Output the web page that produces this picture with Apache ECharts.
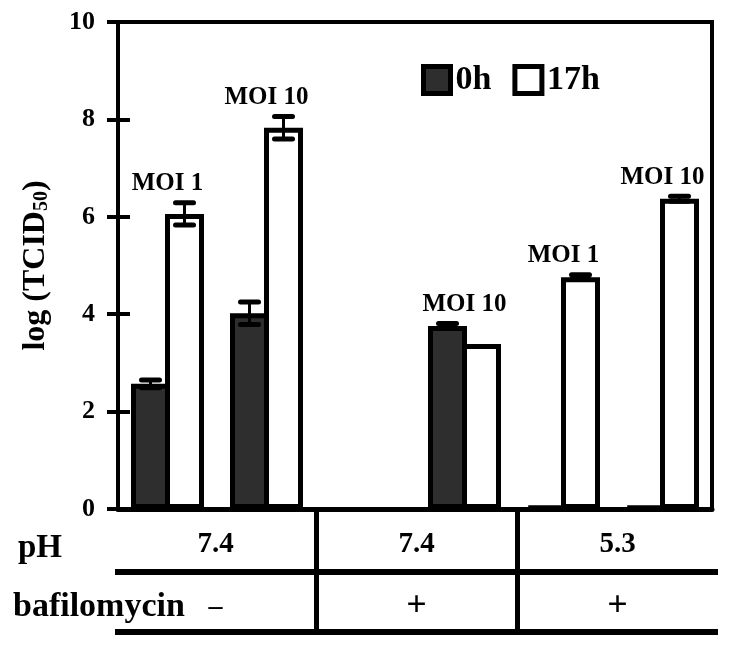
<!DOCTYPE html>
<html><head><meta charset="utf-8">
<script src="https://cdn.jsdelivr.net/npm/echarts@6/dist/echarts.min.js"></script>
<style>html,body{margin:0;padding:0;background:#fff}#c{width:731px;height:655px}</style>
</head><body><div id="c"></div>
<script>
// ---- data ----
const slots = ['pH 7.4 / − / MOI 1', 'pH 7.4 / − / MOI 10', 'pH 7.4 / + / MOI 1', 'pH 7.4 / + / MOI 10', 'pH 5.3 / + / MOI 1', 'pH 5.3 / + / MOI 10'];
const moiLabels = ['MOI 1', 'MOI 10', '', 'MOI 10', 'MOI 1', 'MOI 10'];
const seriesNames = ['0h', '17h'];
const h0 = [2.57, 4.02, null, 3.76, 0.05, 0.05];
const h0Err = [0.08, 0.23, null, 0.05, 0, 0];
const h17 = [6.06, 7.83, null, 3.39, 4.76, 6.37];
const h17Err = [0.23, 0.23, null, 0, 0.05, 0.05];
const yMin = 0, yMax = 10, yInterval = 2;
const yName = 'log (TCID', ySub = '50';
const groups = ['pH 7.4, bafilomycin −', 'pH 7.4, bafilomycin +', 'pH 5.3, bafilomycin +'];
const rowNames = ['pH', 'bafilomycin'];
const phValues = ['7.4', '7.4', '5.3'];
const bafValues = ['–', '+', '+'];

// ---- chart ----
const FF = 'Liberation Serif';
const BW = 39;        // bar width px
const BORDER = 5;     // bar border px
const chart = echarts.init(document.getElementById('c'), null, {renderer: 'canvas'});
const barOffset = (BW - BORDER) / 2;

function errSeries(vals, errs, offset) {
  const data = [];
  vals.forEach((v, i) => { if (v != null && errs[i]) data.push([i, v, errs[i]]); });
  return {
    type: 'custom', xAxisIndex: 0, yAxisIndex: 0, z: 5, silent: true,
    data: data,
    renderItem: function (params, api) {
      const i = api.value(0), v = api.value(1), e = api.value(2);
      const top = api.coord([i, v + e]);
      const bot = api.coord([i, v - e]);
      const x = top[0] + offset;
      const cap = 9;
      const st = {stroke: '#000', lineWidth: 5, lineCap: 'round'};
      return {type: 'group', children: [
        {type: 'line', shape: {x1: x, y1: top[1], x2: x, y2: bot[1]}, style: {stroke: '#000', lineWidth: 3}},
        {type: 'line', shape: {x1: x - cap, y1: top[1], x2: x + cap, y2: top[1]}, style: st},
        {type: 'line', shape: {x1: x - cap, y1: bot[1], x2: x + cap, y2: bot[1]}, style: st}
      ]};
    }
  };
}

const labelPts = [];
slots.forEach((s, i) => {
  if (!moiLabels[i]) return;
  const a = h0[i] == null ? 0 : h0[i] + (h0Err[i] || 0);
  const b = h17[i] == null ? 0 : h17[i] + (h17Err[i] || 0);
  labelPts.push({value: [i, Math.max(a, b)], text: moiLabels[i]});
});

const cells = [], cellTexts = [];
groups.forEach((g, i) => {
  cells.push([i, 0]); cellTexts.push('{v|' + phValues[i] + '}');
  cells.push([i, 1]); cellTexts.push((bafValues[i] === '+' ? '{s|' : '{d|') + bafValues[i] + '}');
});

const option = {
  animation: false,
  backgroundColor: '#fff',
  grid: [
    {left: 118, right: 19, top: 22, bottom: 146, show: true, borderWidth: 4, borderColor: '#000', backgroundColor: 'transparent'},
    {left: 115, right: 13, top: 512, bottom: 23}
  ],
  legend: {
    left: 416, top: 58, icon: 'rect', itemWidth: 27, itemHeight: 27, itemGap: 21,
    data: seriesNames,
    itemStyle: {borderWidth: 5, borderColor: '#000'},
    textStyle: {fontFamily: FF, fontWeight: 'bold', fontSize: 34, color: '#000', padding: [0, 0, 0, 0]}
  },
  xAxis: [
    {type: 'category', gridIndex: 0, data: slots, boundaryGap: true,
     axisLine: {show: true, lineStyle: {color: '#000', width: 5}},
     axisTick: {show: false}, axisLabel: {show: false}, splitLine: {show: false}},
    {type: 'category', gridIndex: 1, data: groups, boundaryGap: true,
     axisLine: {show: false}, axisTick: {show: false}, axisLabel: {show: false},
     splitLine: {show: true, showMinLine: false, showMaxLine: false, lineStyle: {color: '#000', width: 5}}}
  ],
  yAxis: [
    {type: 'value', gridIndex: 0, min: yMin, max: yMax, interval: yInterval, position: 'left',
     name: '{a|' + yName + '}{s|' + ySub + '}{a|)}', nameLocation: 'middle', nameRotate: 90, nameGap: 66,
     nameTextStyle: {rich: {
       a: {fontFamily: FF, fontWeight: 'bold', fontSize: 32, color: '#000'},
       s: {fontFamily: FF, fontWeight: 'bold', fontSize: 20, color: '#000', verticalAlign: 'bottom'}
     }},
     axisLine: {show: true, lineStyle: {color: '#000', width: 4}},
     axisTick: {show: true, inside: false, length: 11, lineStyle: {color: '#000', width: 4}},
     axisLabel: {margin: 23, fontFamily: FF, fontWeight: 'bold', fontSize: 26, color: '#000'},
     splitLine: {show: false}},
    {type: 'value', gridIndex: 0, min: yMin, max: yMax, interval: yInterval, position: 'left',
     axisLine: {show: false},
     axisTick: {show: true, inside: true, length: 12, lineStyle: {color: '#000', width: 4}},
     axisLabel: {show: false}, splitLine: {show: false}},
    {type: 'category', gridIndex: 1, data: rowNames, inverse: true, position: 'left',
     axisLine: {show: false}, axisTick: {show: false},
     axisLabel: {margin: 102, align: 'left',
       formatter: v => v === 'pH' ? '{p|' + v + '}' : '{b|' + v + '}',
       rich: {
         p: {fontFamily: FF, fontWeight: 'bold', fontSize: 33, color: '#000', padding: [13, 0, 0, 5]},
         b: {fontFamily: FF, fontWeight: 'bold', fontSize: 34, color: '#000', padding: [10, 0, 0, 0]}
       }},
     splitLine: {show: true, showMinLine: false, lineStyle: {color: '#000', width: 6}}}
  ],
  series: [
    {name: seriesNames[0], type: 'bar', xAxisIndex: 0, yAxisIndex: 0, data: h0, barWidth: BW, barGap: (-BORDER / BW * 100).toFixed(1) + '%',
     itemStyle: {color: '#2e2e2e', borderColor: '#000', borderWidth: BORDER}},
    {name: seriesNames[1], type: 'bar', xAxisIndex: 0, yAxisIndex: 0, data: h17, barWidth: BW,
     itemStyle: {color: '#fff', borderColor: '#000', borderWidth: BORDER}},
    errSeries(h0, h0Err, -barOffset),
    errSeries(h17, h17Err, barOffset),
    {type: 'scatter', xAxisIndex: 0, yAxisIndex: 0, symbolSize: 1, silent: true, z: 6,
     itemStyle: {color: 'rgba(0,0,0,0)', opacity: 1},
     data: labelPts.map(p => p.value),
     label: {show: true, position: 'top', distance: 6, formatter: p => labelPts[p.dataIndex].text,
       fontFamily: FF, fontWeight: 'bold', fontSize: 25, color: '#000', opacity: 1}},
    {type: 'scatter', xAxisIndex: 1, yAxisIndex: 2, symbolSize: 1, silent: true,
     itemStyle: {color: 'rgba(0,0,0,0)', opacity: 1},
     data: cells,
     label: {show: true, position: 'inside', formatter: p => cellTexts[p.dataIndex], opacity: 1,
       rich: {
         v: {fontFamily: FF, fontWeight: 'bold', fontSize: 29, color: '#000', padding: [6, 0, 0, 0]},
         s: {fontFamily: FF, fontWeight: 'bold', fontSize: 36, color: '#000', padding: [10, 0, 0, 0]},
         d: {fontFamily: FF, fontWeight: 'bold', fontSize: 28, color: '#000', padding: [10, 0, 0, 0]}
       }}}
  ]
};
chart.setOption(option);
</script>
</body></html>
